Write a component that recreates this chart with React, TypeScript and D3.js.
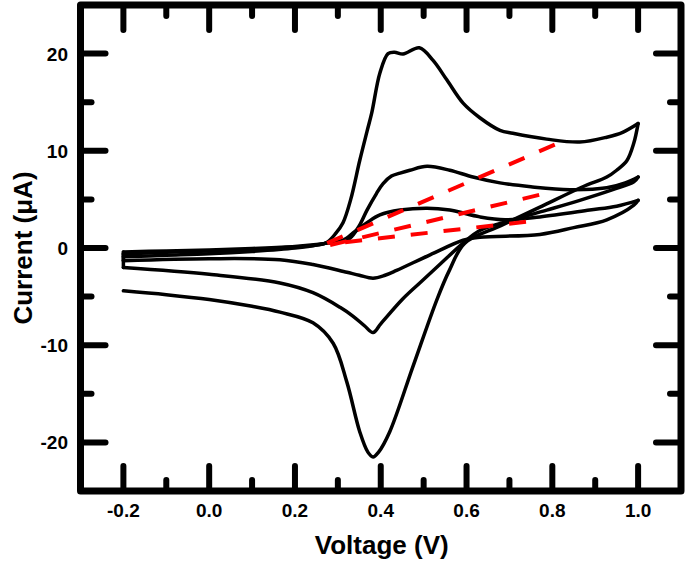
import React from "react";
import * as d3 from "d3";

// ---------- data ----------
const xTickValues = [-0.2, 0.0, 0.2, 0.4, 0.6, 0.8, 1.0];
const xTickLabels = ["-0.2", "0.0", "0.2", "0.4", "0.6", "0.8", "1.0"];
const xMinorTicks = [-0.1, 0.1, 0.3, 0.5, 0.7, 0.9];
const yTickValues = [-20, -10, 0, 10, 20];
const yTickLabels = ["-20", "-10", "0", "10", "20"];
const yMinorTicks = [-15, -5, 5, 15];

// large loop
const largeFwdV = [-0.2, -0.1, 0.0, 0.1, 0.2, 0.25, 0.275, 0.295, 0.312, 0.33, 0.351, 0.368, 0.379, 0.398, 0.417, 0.432, 0.452, 0.49, 0.522, 0.554, 0.592, 0.631, 0.678, 0.708, 0.787, 0.864, 0.927, 0.964, 1.0];
const largeFwdI = [-0.9, -0.75, -0.6, -0.35, 0.0, 0.3, 0.6, 1.5, 2.6, 5.0, 9.0, 12.0, 13.9, 18.0, 20.0, 20.15, 19.95, 20.6, 19.3, 17.3, 14.9, 13.4, 12.1, 11.8, 11.2, 10.9, 11.4, 11.9, 12.8];
const largeRevV = [1.0, 0.99, 0.974, 0.95, 0.927, 0.871, 0.771, 0.68, 0.596, 0.56, 0.531, 0.475, 0.421, 0.395, 0.382, 0.37, 0.351, 0.321, 0.289, 0.242, 0.165, 0.1, 0.0, -0.1, -0.2];
const largeRevI = [12.8, 10.8, 9.0, 8.0, 7.3, 6.3, 4.2, 2.3, 0.5, -2.3, -5.3, -12.2, -18.9, -21.0, -21.5, -21.0, -18.9, -13.8, -9.8, -7.7, -6.6, -6.0, -5.3, -4.8, -4.4];

// medium loop
const midFwdV = [-0.2, -0.1, 0.0, 0.1, 0.2, 0.25, 0.275, 0.3, 0.328, 0.35, 0.368, 0.39, 0.405, 0.425, 0.445, 0.468, 0.508, 0.561, 0.615, 0.678, 0.75, 0.841, 0.927, 0.97, 1.0];
const midFwdI = [-0.6, -0.45, -0.3, -0.15, 0.1, 0.3, 0.5, 0.65, 1.0, 2.3, 3.9, 5.6, 6.6, 7.4, 7.7, 8.0, 8.4, 8.0, 7.3, 6.7, 6.3, 6.0, 6.2, 6.7, 7.3];
const midRevV = [1.0, 0.99, 0.941, 0.864, 0.787, 0.708, 0.631, 0.592, 0.54, 0.491, 0.45, 0.4, 0.382, 0.362, 0.335, 0.305, 0.242, 0.165, 0.0, -0.2];
const midRevI = [7.3, 6.8, 6.0, 4.9, 3.9, 2.9, 1.8, 0.5, -1.6, -3.6, -5.3, -7.8, -8.7, -8.0, -7.0, -6.1, -4.6, -3.6, -2.7, -2.0];

// small loop
const smallFwdV = [-0.2, -0.1, 0.0, 0.1, 0.2, 0.25, 0.275, 0.312, 0.34, 0.368, 0.398, 0.445, 0.508, 0.561, 0.631, 0.69, 0.771, 0.887, 0.95, 1.0];
const smallFwdI = [-0.4, -0.3, -0.2, -0.05, 0.15, 0.35, 0.5, 0.8, 1.7, 2.6, 3.4, 3.9, 4.1, 3.9, 3.2, 2.9, 3.2, 3.9, 4.3, 4.9];
const smallRevV = [1.0, 0.99, 0.927, 0.85, 0.771, 0.631, 0.592, 0.515, 0.437, 0.41, 0.382, 0.35, 0.321, 0.242, 0.165, 0.0, -0.2];
const smallRevI = [4.9, 4.4, 2.9, 2.1, 1.4, 1.1, 0.8, -0.7, -2.3, -2.8, -3.1, -2.8, -2.5, -1.7, -1.2, -1.1, -1.3];

// red dashed baselines
const baseStartV = [0.275, 0.282, 0.317];
const baseStartI = [0.5, 0.3, 0.6];
const baseEndV = [0.82, 0.782, 0.759];
const baseEndI = [10.9, 5.6, 2.8];

const W = 685;
const H = 563;
const FONT = "'Liberation Sans', Arial, Helvetica, sans-serif";

export default function App() {
  const x = d3.scaleLinear().domain([-0.3, 1.1]).range([80.5, 681]);
  const y = d3.scaleLinear().domain([-25, 25]).range([491, 5]);

  const line = d3
    .line<[number, number]>()
    .x((d) => x(d[0]))
    .y((d) => y(d[1]))
    .curve(d3.curveCatmullRom.alpha(0.5));

  const zip = (a: number[], b: number[]) => a.map((v, i) => [v, b[i]] as [number, number]);

  const loops = [
    { fv: largeFwdV, fi: largeFwdI, rv: largeRevV, ri: largeRevI, close: false },
    { fv: midFwdV, fi: midFwdI, rv: midRevV, ri: midRevI, close: true },
    { fv: smallFwdV, fi: smallFwdI, rv: smallRevV, ri: smallRevI, close: true },
  ];

  const [x0, x1] = x.range();
  const [yb, yt] = y.range();
  const majorLen = 25;
  const minorLen = 11;
  const tickW = 6;

  return (
    <svg
      width={W}
      height={H}
      style={{ position: "absolute", left: 0, top: 0, background: "#fff" }}
      fontFamily={FONT}
    >
      <rect x={0} y={0} width={W} height={H} fill="#fff" />
      {/* curves */}
      <g fill="none" stroke="#000" strokeWidth={3.5} strokeLinejoin="round" strokeLinecap="round">
        {loops.map((l, i) => (
          <g key={i}>
            <path d={line(zip(l.fv, l.fi)) || ""} />
            <path d={line(zip(l.rv, l.ri)) || ""} />
            {l.close && (
              <path
                d={d3.line()([
                  [x(l.rv[l.rv.length - 1]), y(l.ri[l.ri.length - 1])],
                  [x(l.fv[0]), y(l.fi[0])],
                ]) || ""}
              />
            )}
          </g>
        ))}
      </g>
      {/* red dashed baselines */}
      <g stroke="#ff0000" strokeWidth={4} strokeDasharray="17,16" fill="none">
        {baseStartV.map((v, i) => (
          <line
            key={i}
            x1={x(v)}
            y1={y(baseStartI[i])}
            x2={x(baseEndV[i])}
            y2={y(baseEndI[i])}
          />
        ))}
      </g>
      {/* ticks */}
      <g stroke="#000" strokeWidth={tickW} strokeLinecap="round">
        {xTickValues.map((v) => (
          <g key={"xm" + v}>
            <line x1={x(v)} x2={x(v)} y1={yb} y2={yb - majorLen} />
            <line x1={x(v)} x2={x(v)} y1={yt} y2={yt + majorLen} />
          </g>
        ))}
        {xMinorTicks.map((v) => (
          <g key={"xn" + v}>
            <line x1={x(v)} x2={x(v)} y1={yb} y2={yb - minorLen} />
            <line x1={x(v)} x2={x(v)} y1={yt} y2={yt + minorLen} />
          </g>
        ))}
        {yTickValues.map((v) => (
          <g key={"ym" + v}>
            <line x1={x0} x2={x0 + majorLen} y1={y(v)} y2={y(v)} />
            <line x1={x1} x2={x1 - majorLen} y1={y(v)} y2={y(v)} />
          </g>
        ))}
        {yMinorTicks.map((v) => (
          <g key={"yn" + v}>
            <line x1={x0} x2={x0 + minorLen} y1={y(v)} y2={y(v)} />
            <line x1={x1} x2={x1 - minorLen} y1={y(v)} y2={y(v)} />
          </g>
        ))}
      </g>
      {/* frame */}
      <rect
        x={x0}
        y={yt}
        width={x1 - x0}
        height={yb - yt}
        fill="none"
        stroke="#000"
        strokeWidth={7}
        strokeLinejoin="round"
      />
      {/* tick labels */}
      <g fontSize={19} fontWeight="bold" fill="#000">
        {xTickValues.map((v, i) => (
          <text key={"xl" + v} x={x(v)} y={517} textAnchor="middle">
            {xTickLabels[i]}
          </text>
        ))}
        {yTickValues.map((v, i) => (
          <text key={"yl" + v} x={68} y={y(v) + 7} textAnchor="end">
            {yTickLabels[i]}
          </text>
        ))}
      </g>
      {/* axis titles */}
      <text x={381.7} y={554} textAnchor="middle" fontSize={26} fontWeight="bold">
        Voltage (V)
      </text>
      <text
        transform={`translate(32,248) rotate(-90)`}
        textAnchor="middle"
        fontSize={26}
        fontWeight="bold"
      >
        Current (μA)
      </text>
    </svg>
  );
}
